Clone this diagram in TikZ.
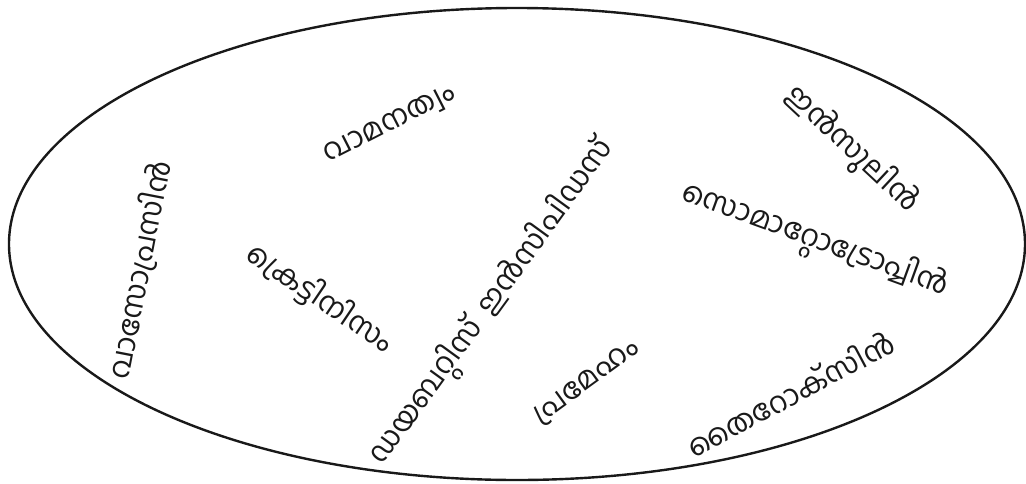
\documentclass[tikz,border=0pt]{standalone}
\usepackage{fontspec}
\newfontfamily\malfont[Script=Malayalam]{Hind Kochi}
\usetikzlibrary{positioning}

\begin{document}
\begin{tikzpicture}[
        x=0.75pt, y=-0.75pt,
        font=\malfont\fontsize{22}{26}\selectfont,
        term/.style={inner sep=0pt, text=black!90},
        group/.style={draw=black!90, line width=1.8pt}
    ]
    \useasboundingbox (0,0) rectangle (1026,483);

    \draw [group] (517,244) ellipse [x radius=508, y radius=236];

    \node (vaso) [term, rotate=79] at (140,270) {വാസോപ്രസിൻ};
    \node (dwarf) [term, rotate=27] at (390,125) {വാമനത്വം};
    \node (cret) [term, rotate=-34] at (320,298) {ക്രെട്ടിനിസം};
    \node (dins) [term, rotate=54] at (493,303) {ഡയബറ്റിസ്\ \ ഇൻസിപിഡസ്};
    \node (dmel) [term, rotate=36] at (587,383) {പ്രമേഹം};
    \node (soma) [term, rotate=-20] at (815,241) {സൊമാറ്റോട്രോപ്പിൻ};
    \node (insu) [term, rotate=-43] at (852,150) {ഇൻസുലിൻ};
    \node (thyr) [term, rotate=28] at (790,393) {തൈറോക്സിൻ};

\end{tikzpicture}
\end{document}
